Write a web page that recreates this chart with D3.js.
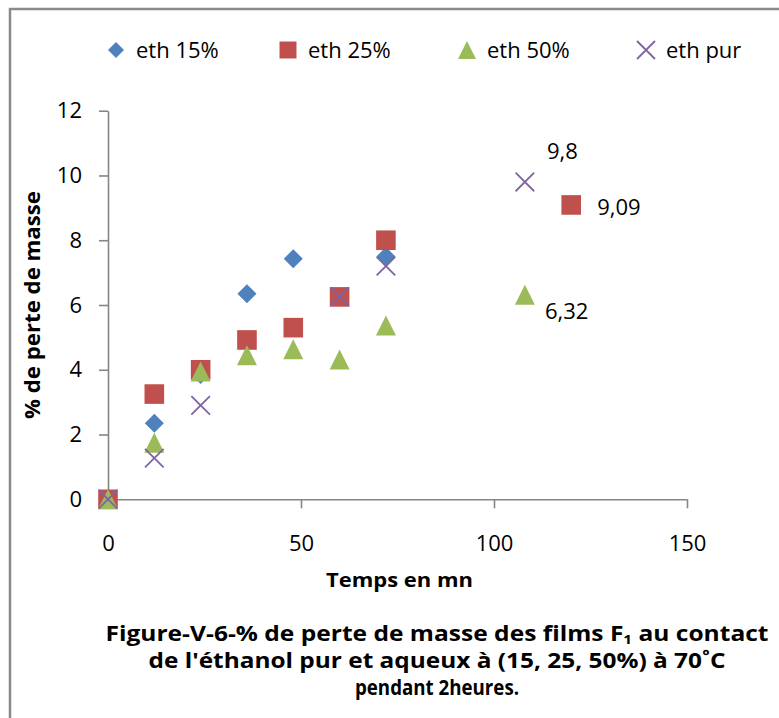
<!DOCTYPE html>
<html>
<head>
<meta charset="utf-8">
<script src="https://cdn.jsdelivr.net/npm/d3@7/dist/d3.min.js"></script>
<style>
  html, body { margin: 0; padding: 0; background: #fff; }
  svg { display: block; font-family: "Open Sans", "Liberation Sans", sans-serif; }
</style>
</head>
<body>
<div id="chart"></div>
<script>
// ---- data ----
const xTicks = [0, 50, 100, 150];
const yTicks = [0, 2, 4, 6, 8, 10, 12];

const seriesNames = ["eth 15%", "eth 25%", "eth 50%", "eth pur"];

const times15 = [0, 12, 24, 36, 48, 60, 72];
const eth15   = [0, 2.35, 3.85, 6.35, 7.43, 6.25, 7.5];

const times25 = [0, 12, 24, 36, 48, 60, 72, 120];
const eth25   = [0, 3.25, 4.0, 4.92, 5.3, 6.25, 8.0, 9.09];

const times50 = [0, 12, 24, 36, 48, 60, 72, 108];
const eth50   = [0, 1.75, 3.95, 4.45, 4.63, 4.32, 5.37, 6.32];

const timesPur = [0, 12, 24, 60, 72, 108];
const ethPur   = [0, 1.27, 2.9, 6.26, 7.2, 9.8];

const xTitle = "Temps en mn";
const yTitle = "% de perte de masse";
const captionLines = [
  ["Figure-V-6-% de perte de masse des films F", "1", " au contact"],
  ["de l'éthanol pur et aqueux à (15, 25, 50%) à 70˚C"],
  ["pendant 2heures."]
];

// ---- layout ----
const W = 779, H = 718;
const colors = ["#4F81BD", "#C0504D", "#9BBB59", "#8064A2"];
const shapes = ["diamond", "square", "triangle", "cross"];

const svg = d3.select("#chart").append("svg").attr("width", W).attr("height", H);

// outer frame
svg.append("rect").attr("x", 10).attr("y", 9).attr("width", 900).attr("height", 900)
  .attr("fill", "none").attr("stroke", "#8a8a8a").attr("stroke-width", 2.5);

const x = d3.scaleLinear().domain([0, 150]).range([108, 687]);
const y = d3.scaleLinear().domain([0, 12]).range([499.3, 110.7]);

function fit(sel, w) {
  const L = sel.node().getComputedTextLength();
  if (Math.abs(L - w) / w > 0.015) sel.attr("textLength", w).attr("lengthAdjust", "spacingAndGlyphs");
}

// axes
const axisColor = "#868686";
const gy = svg.append("g").attr("transform", `translate(${x(0)},0)`)
  .call(d3.axisLeft(y).tickValues(yTicks).tickSize(9).tickSizeOuter(0).tickPadding(17).tickFormat(d3.format("d")));
const gx = svg.append("g").attr("transform", `translate(0,${y(0)})`)
  .call(d3.axisBottom(x).tickValues(xTicks).tickSize(9).tickSizeOuter(0).tickPadding(27).tickFormat(d3.format("d")));
[gx, gy].forEach(g => {
  g.select(".domain").attr("stroke", axisColor).attr("stroke-width", 1.6);
  g.selectAll(".tick line").attr("stroke", axisColor).attr("stroke-width", 1.6);
  g.selectAll(".tick text").attr("fill", "#000").attr("font-size", 22)
    .attr("font-family", "'Open Sans', sans-serif");
});

// marker drawing
function drawMarker(g, shape, color, s) {
  if (shape === "diamond") {
    g.append("path").attr("d", `M0,${-s}L${s},0L0,${s}L${-s},0Z`).attr("fill", color);
  } else if (shape === "square") {
    g.append("rect").attr("x", -s).attr("y", -s).attr("width", 2 * s).attr("height", 2 * s).attr("fill", color);
  } else if (shape === "triangle") {
    g.append("path").attr("d", `M0,${-s}L${s},${s}L${-s},${s}Z`).attr("fill", color);
  } else {
    g.append("path").attr("d", `M${-s},${-s}L${s},${s}M${-s},${s}L${s},${-s}`)
      .attr("stroke", color).attr("stroke-width", 1.8).attr("fill", "none");
  }
}

const allSeries = [
  { t: times15, v: eth15 },
  { t: times25, v: eth25 },
  { t: times50, v: eth50 },
  { t: timesPur, v: ethPur }
];
const markerSize = [9.5, 9.8, 10, 9.3];

allSeries.forEach((s, i) => {
  const g = svg.append("g");
  s.t.forEach((t, j) => {
    const m = g.append("g").attr("transform", `translate(${x(t)},${y(s.v[j])})`);
    drawMarker(m, shapes[i], colors[i], markerSize[i]);
  });
});

// data labels on last points
const fmt = v => String(v).replace(".", ",");
const labelOffsets = [null, [26, 10], [20, 24], [22, -23]];
allSeries.forEach((s, i) => {
  if (!labelOffsets[i]) return;
  const n = s.t.length - 1;
  svg.append("text")
    .attr("x", x(s.t[n]) + labelOffsets[i][0])
    .attr("y", y(s.v[n]) + labelOffsets[i][1])
    .attr("font-size", 22).attr("fill", "#000")
    .text(fmt(s.v[n]));
});

// legend
const legendX = [116, 288, 467, 646];
const legendSize = [8, 8.5, 9, 9];
seriesNames.forEach((name, i) => {
  const m = svg.append("g").attr("transform", `translate(${legendX[i]},50)`);
  drawMarker(m, shapes[i], colors[i], legendSize[i]);
  svg.append("text").attr("x", legendX[i] + 20).attr("y", 58)
    .attr("font-size", 22).attr("fill", "#000").text(name);
});

// axis titles
const yt = svg.append("text").attr("transform", "translate(40,305) rotate(-90)")
  .attr("text-anchor", "middle").attr("font-weight", "bold").attr("font-size", 21)
  .text(yTitle);
fit(yt, 228);

const xt = svg.append("text").attr("x", 399.5).attr("y", 587)
  .attr("text-anchor", "middle").attr("font-weight", "bold").attr("font-size", 19)
  .text(xTitle);
fit(xt, 147);

// caption (lines 1-2 are justified full width in the reference)
const capBase = [641, 668, 695];
const capW = [663, 577, 164];
const capSize = [21, 21, 21];
captionLines.forEach((parts, i) => {
  const t = svg.append("text").attr("x", 437).attr("y", capBase[i])
    .attr("text-anchor", "middle").attr("font-weight", "bold").attr("font-size", capSize[i]);
  if (parts.length === 1) {
    t.text(parts[0]);
  } else {
    t.append("tspan").text(parts[0]);
    t.append("tspan").attr("font-size", 13).attr("dy", 3).text(parts[1]);
    t.append("tspan").attr("dy", -3).text(parts[2]);
  }
  fit(t, capW[i]);
});
</script>
</body>
</html>
